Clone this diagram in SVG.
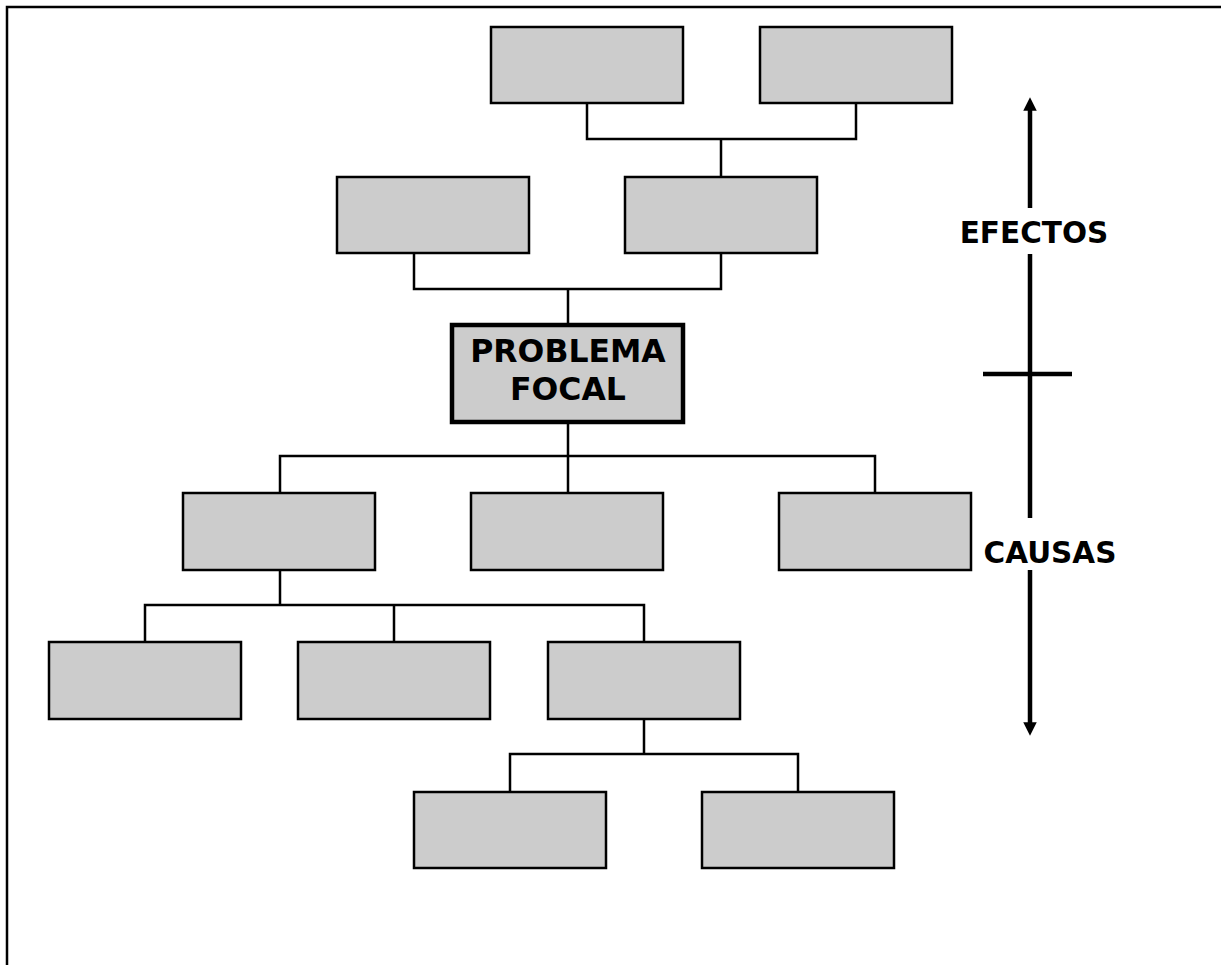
<svg xmlns="http://www.w3.org/2000/svg" width="1221" height="965" viewBox="0 0 1221 965">
<style>
.box{fill:#cccccc;stroke:#000;stroke-width:2.5}
.focal{fill:#cccccc;stroke:#000;stroke-width:4.5}
.c{fill:none;stroke:#000;stroke-width:2.5}
.ax{fill:none;stroke:#000;stroke-width:4.5}
.t{font-family:"DejaVu Sans",Verdana,sans-serif;font-weight:bold;fill:#000;text-anchor:middle}
</style>
<defs>
<marker id="ah" viewBox="0 0 10 10" refX="5" refY="5" markerWidth="3" markerHeight="3" orient="auto-start-reverse" markerUnits="strokeWidth">
<path d="M0,0 L10,5 L0,10 z" fill="#000"/>
</marker>
</defs>
<rect width="1221" height="965" fill="#fff"/>
<path d="M7,965 V7 H1221" fill="none" stroke="#000" stroke-width="2.5"/>
<g id="connectors">
<path class="c" d="M587,103 V139 H856 V103 M721,139 V177"/>
<path class="c" d="M414,253 V289 H721 V253 M568,289 V325"/>
<path class="c" d="M568,422 V493 M280,493 V456 H875 V493"/>
<path class="c" d="M280,570 V605 M145,642 V605 H644 V642 M394,605 V642"/>
<path class="c" d="M644,719 V754 M510,792 V754 H798 V792"/>
</g>
<g id="e1"><rect class="box" x="491" y="27" width="192" height="76"/></g>
<g id="e2"><rect class="box" x="760" y="27" width="192" height="76"/></g>
<g id="e3"><rect class="box" x="337" y="177" width="192" height="76"/></g>
<g id="e4"><rect class="box" x="625" y="177" width="192" height="76"/></g>
<g id="focal"><rect class="focal" x="452" y="325" width="231" height="97"/>
<text class="t" x="568" y="362" font-size="31.5">PROBLEMA</text>
<text class="t" x="568" y="400" font-size="31.5">FOCAL</text></g>
<g id="c1"><rect class="box" x="183" y="493" width="192" height="77"/></g>
<g id="c2"><rect class="box" x="471" y="493" width="192" height="77"/></g>
<g id="c3"><rect class="box" x="779" y="493" width="192" height="77"/></g>
<g id="c4"><rect class="box" x="49" y="642" width="192" height="77"/></g>
<g id="c5"><rect class="box" x="298" y="642" width="192" height="77"/></g>
<g id="c6"><rect class="box" x="548" y="642" width="192" height="77"/></g>
<g id="c7"><rect class="box" x="414" y="792" width="192" height="76"/></g>
<g id="c8"><rect class="box" x="702" y="792" width="192" height="76"/></g>
<g id="axis">
<line class="ax" x1="1030" y1="208" x2="1030" y2="104" marker-end="url(#ah)"/>
<line class="ax" x1="1030" y1="254" x2="1030" y2="518"/>
<line class="ax" x1="1030" y1="570" x2="1030" y2="729" marker-end="url(#ah)"/>
<line class="ax" x1="983" y1="374" x2="1072" y2="374"/>
<text class="t" x="1034" y="243" font-size="29.5">EFECTOS</text>
<text class="t" x="1050" y="563" font-size="29.5">CAUSAS</text>
</g>
</svg>
